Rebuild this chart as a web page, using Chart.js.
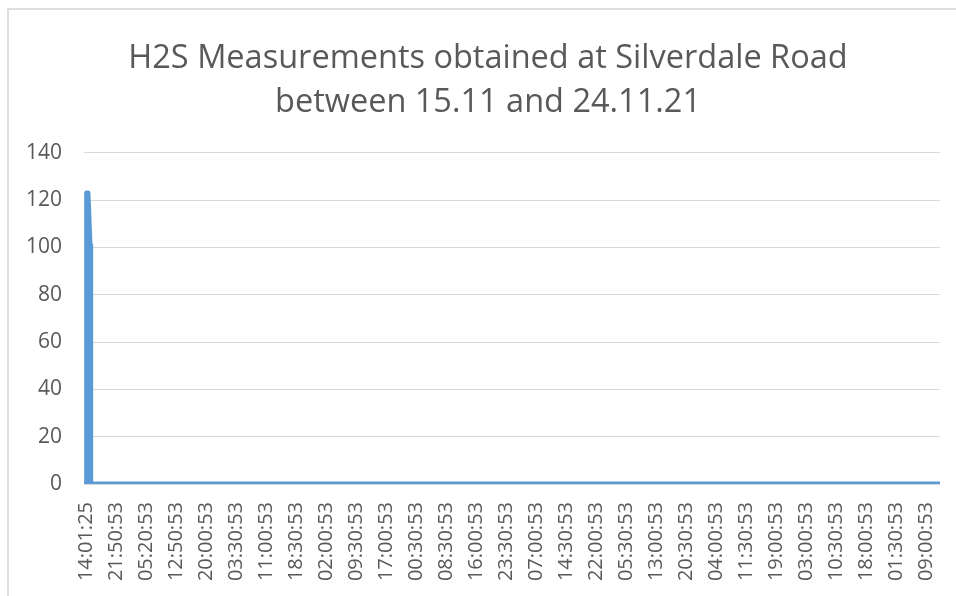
<!DOCTYPE html>
<html>
<head>
<meta charset="utf-8">
<script src="https://cdn.jsdelivr.net/npm/chart.js@4"></script>
<style>
  html, body { margin: 0; padding: 0; background: #fff; }
  #wrap { position: absolute; left: 0; top: 0; width: 956px; height: 596px; }
  #frame {
    position: absolute; left: 7px; top: 8px; right: 0; bottom: 0;
    border-left: 2px solid #dedede; border-top: 2px solid #dedede;
    pointer-events: none;
  }
</style>
</head>
<body>
<div id="wrap"><canvas id="h2sChart" width="956" height="596"></canvas></div>
<div id="frame"></div>
<script>
// sample index (10 minute readings) and H2S value
const sampleIndex = [0, 1, 3, 6, 7, 1281];
const h2sValues = [0, 123, 123, 101, 0, 0];

// category labels Excel shows, one every 45 samples
const labelStep = 45;
const timeLabels = [
  "14:01:25", "21:50:53", "05:20:53", "12:50:53", "20:00:53", "03:30:53",
  "11:00:53", "18:30:53", "02:00:53", "09:30:53", "17:00:53", "00:30:53",
  "08:30:53", "16:00:53", "23:30:53", "07:00:53", "14:30:53", "22:00:53",
  "05:30:53", "13:00:53", "20:30:53", "04:00:53", "11:30:53", "19:00:53",
  "03:00:53", "10:30:53", "18:00:53", "01:30:53", "09:00:53"
];
const yTicks = [0, 20, 40, 60, 80, 100, 120, 140];

const textGrey = "#595959";
const fontName = "'Open Sans', sans-serif";

new Chart(document.getElementById("h2sChart"), {
  type: "line",
  data: {
    datasets: [{
      label: "H2S",
      data: sampleIndex.map((x, i) => ({ x: x, y: h2sValues[i] })),
      borderColor: "#5b9bd5",
      borderWidth: 5,
      borderJoinStyle: "round",
      borderCapStyle: "round",
      pointRadius: 0,
      tension: 0,
      fill: false
    }]
  },
  options: {
    responsive: false,
    animation: false,
    devicePixelRatio: 1,
    // left padding nudges the centred title right, like Excel's
    layout: { padding: { left: 20, right: 0, top: 0, bottom: 0 } },
    plugins: {
      legend: { display: false },
      tooltip: { enabled: false },
      title: {
        display: true,
        text: ["H2S Measurements obtained at Silverdale Road", "between 15.11 and 24.11.21"],
        color: textGrey,
        font: { family: fontName, size: 32.5, weight: "normal", lineHeight: 1.35 },
        padding: { top: 37, bottom: 28 }
      }
    },
    scales: {
      x: {
        type: "linear",
        min: -3,
        max: 1281,
        grid: { display: false },
        border: { display: false },
        afterBuildTicks: (scale) => {
          scale.ticks = timeLabels.map((_, i) => ({ value: i * labelStep }));
        },
        afterFit: (scale) => {
          scale.height = 112;
          scale.paddingLeft = 0;
          scale.paddingRight = 16;
        },
        ticks: {
          autoSkip: false,
          minRotation: 90,
          maxRotation: 90,
          padding: 10,
          color: textGrey,
          font: { family: fontName, size: 20 },
          callback: (value, index) => timeLabels[index]
        }
      },
      y: {
        min: 0,
        max: 140,
        grid: { color: "#d9d9d9", lineWidth: 1, drawTicks: false },
        border: { display: false },
        afterBuildTicks: (scale) => {
          scale.ticks = yTicks.map((v) => ({ value: v }));
        },
        afterFit: (scale) => { scale.width = 64; },
        ticks: {
          padding: 22,
          color: textGrey,
          font: { family: fontName, size: 21 }
        }
      }
    }
  }
});
</script>
</body>
</html>
